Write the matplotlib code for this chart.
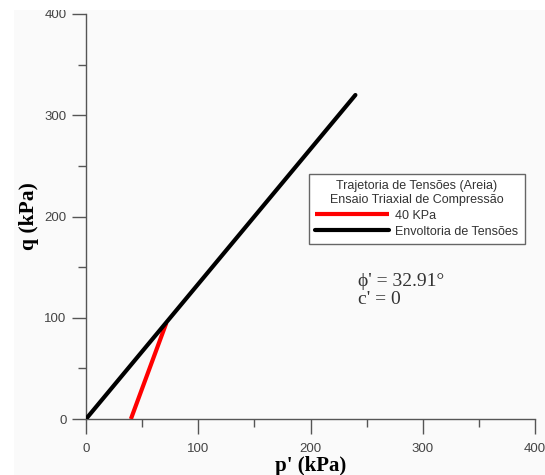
import matplotlib
matplotlib.use('Agg')
import matplotlib.pyplot as plt
import matplotlib.patches as patches
from matplotlib.ticker import MultipleLocator

# stress path (40 kPa) and failure envelope
p_path = [40, 71.6]
q_path = [0, 95]
p_env = [0, 240]
q_env = [0, 320]

legend_title = 'Trajetoria de Tensões (Areia)\nEnsaio Triaxial de Compressão'
path_label = '40 KPa'
env_label = 'Envoltoria de Tensões'
x_ticks = [0, 100, 200, 300, 400]
y_ticks = [0, 100, 200, 300, 400]

fig = plt.figure(figsize=(5.45, 4.75), dpi=100, facecolor='#fafafa')
# white margin strips at top and left like the screenshot
fig.patches.append(patches.Rectangle((0, 1 - 10 / 475), 1, 10 / 475, transform=fig.transFigure,
                                     facecolor='white', edgecolor='none', zorder=0))
fig.patches.append(patches.Rectangle((0, 0), 14 / 545, 1, transform=fig.transFigure,
                                     facecolor='white', edgecolor='none', zorder=0))

ax = fig.add_axes([86 / 545, 56 / 475, 449 / 545, 405 / 475])
ax.set_facecolor('none')

ax.plot(p_path, q_path, color='#ff0000', lw=3, solid_capstyle='butt', label=path_label, zorder=3)
ax.plot(p_env, q_env, color='black', lw=3, solid_capstyle='round', label=env_label, zorder=3)

ax.set_xlim(0, 400)
ax.set_ylim(0, 400)
ax.set_xticks(x_ticks)
ax.set_yticks(y_ticks)
ax.xaxis.set_minor_locator(MultipleLocator(50))
ax.yaxis.set_minor_locator(MultipleLocator(50))

for side in ['top', 'right']:
    ax.spines[side].set_visible(False)
for side in ['left', 'bottom']:
    ax.spines[side].set_color('#555555')
    ax.spines[side].set_linewidth(1)

ax.tick_params(which='major', direction='out', length=10, width=1, color='#555555',
               labelsize=9.5, labelcolor='#444444', pad=4)
ax.tick_params(which='minor', direction='out', length=6, width=1, color='#555555')
ax.tick_params(axis='x', which='major', length=11, pad=6)
ax.tick_params(axis='x', which='minor', length=6)
for lab in ax.get_xticklabels() + ax.get_yticklabels():
    lab.set_family('Liberation Sans')

ax.set_xlabel("p' (kPa)", family='Liberation Serif', fontsize=15, fontweight='bold')
ax.xaxis.set_label_coords(0.5, -0.092)
ax.set_ylabel('q (kPa)', family='Liberation Serif', fontsize=15.5, fontweight='bold', labelpad=4)

leg = ax.legend(title=legend_title, loc='upper left', bbox_to_anchor=(0.497, 0.605),
                borderaxespad=0, handlelength=5.9, handletextpad=0.5, fancybox=False,
                framealpha=1, edgecolor='#666666', borderpad=0.5, labelspacing=0.3,
                prop={'family': 'Liberation Sans', 'size': 9},
                title_fontproperties={'family': 'Liberation Sans', 'size': 9})
leg.get_title().set_color('#333333')
leg.get_title().set_multialignment('center')
for t in leg.get_texts():
    t.set_color('#333333')

ax.text(0.605, 0.317, "ϕ' = 32.91°\nc' = 0", transform=ax.transAxes, family='Liberation Serif',
        fontsize=14, color='#333333', va='center', ha='left', linespacing=1.1)

fig.savefig('out.png', dpi=100, facecolor=fig.get_facecolor())
